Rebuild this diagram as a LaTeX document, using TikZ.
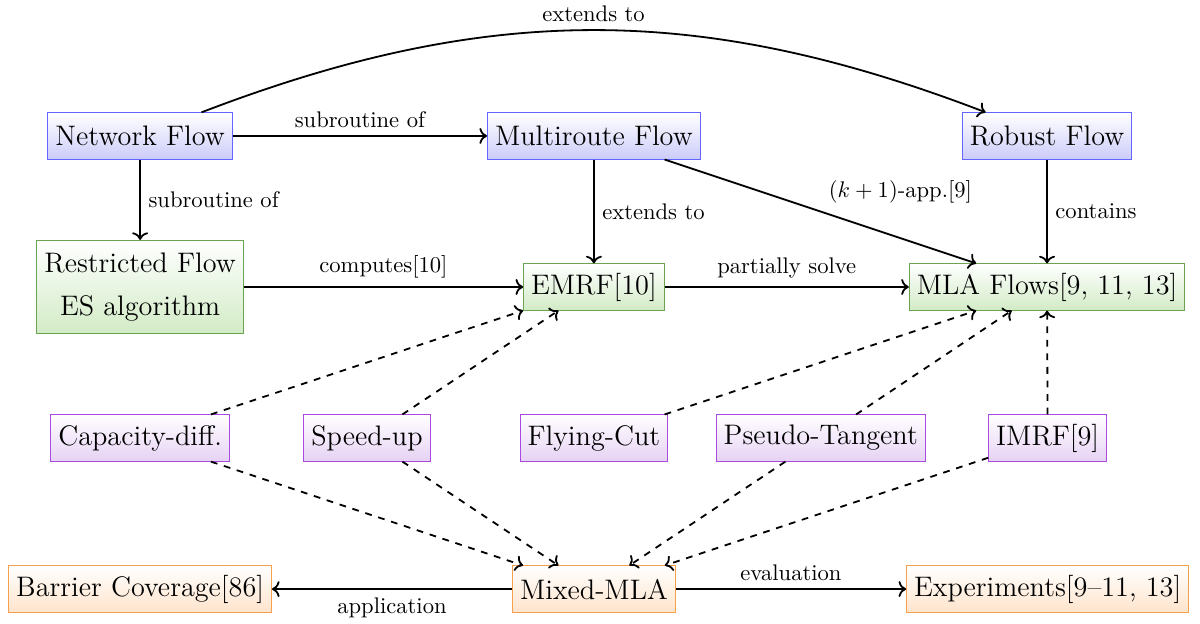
\documentclass[tikz,border=0pt]{standalone}
\usetikzlibrary{arrows.meta,positioning}
\definecolor{Indigo}{HTML}{6464FF}
\definecolor{IndigoLight}{HTML}{CCCCFA}
\definecolor{Leaf}{HTML}{6AA452}
\definecolor{LeafLight}{HTML}{D2EBC6}
\definecolor{Plum}{HTML}{AA48E2}
\definecolor{PlumLight}{HTML}{E6D2F4}
\definecolor{Amber}{HTML}{F5A04C}
\definecolor{AmberLight}{HTML}{FFE4CC}

\begin{document}
\begin{tikzpicture}[
      node distance=2.35cm and 3.53cm, on grid,
      box/.style={draw,font=\fontsize{12.5}{15}\selectfont,align=center,minimum height=7.2mm},
      basic/.style={box,draw=Indigo,top color=white,bottom color=IndigoLight},
      solved/.style={box,draw=Leaf,top color=white,bottom color=LeafLight},
      tech/.style={box,draw=Plum,top color=white,bottom color=PlumLight},
      app/.style={box,draw=Amber,top color=white,bottom color=AmberLight},
      arrow/.style={->,thick},
      dasharrow/.style={->,thick,dashed}
    ]
      \useasboundingbox (-2.18,2.115) rectangle (16.49,-7.59);
      % problems
      \node[basic] (network) {Network Flow};
      \node[basic,right=7.06cm of network] (multi) {Multiroute Flow};
      \node[basic,right=7.05cm of multi] (robust) {Robust Flow};
      \node[solved,below=of network,minimum height=14.5mm] (restricted) {Restricted Flow\\[4pt]ES algorithm};
      \node[solved,below=of multi] (emrf) {EMRF[10]};
      \node[solved,below=of robust] (mla) {MLA Flows[9, 11, 13]};
      % techniques
      \node[tech,below=of restricted] (capdiff) {Capacity-diff.};
      \node[tech,right=of capdiff] (speedup) {Speed-up};
      \node[tech,right=of speedup] (flycut) {Flying-Cut};
      \node[tech,right=of flycut] (pseudo) {Pseudo-Tangent};
      \node[tech,right=of pseudo] (imrf) {IMRF[9]};
      % applications
      \node[app,below=of capdiff] (barrier) {Barrier Coverage[86]};
      \node[app,below=of flycut] (mixed) {Mixed-MLA};
      \node[app,below=of imrf] (exper) {Experiments[9--11, 13]};

      \draw[arrow] (network) -- node[above] {subroutine of} (multi);
      \draw[arrow] (network) -- node[right] {subroutine of} (restricted);
      \draw[arrow] (network) to[bend left=21] node[above] {extends to} (robust);
      \draw[arrow] (multi) -- node[right] {extends to} (emrf);
      \draw[arrow] (multi) -- node[above right] {$(k+1)$-app.[9]} (mla);
      \draw[arrow] (robust) -- node[right] {contains} (mla);
      \draw[arrow] (restricted) -- node[above] {computes[10]} (emrf);
      \draw[arrow] (emrf) -- node[above] {partially solve} (mla);
      \draw[arrow] (mixed) -- node[below] {application} (barrier);
      \draw[arrow] (mixed) -- node[above] {evaluation} (exper);
      \foreach \src/\dst in {capdiff/emrf,speedup/emrf,flycut/mla,pseudo/mla,imrf/mla,
          capdiff/mixed,speedup/mixed,pseudo/mixed,imrf/mixed}
        \draw[dasharrow] (\src) -- (\dst);
    \end{tikzpicture}
\end{document}
